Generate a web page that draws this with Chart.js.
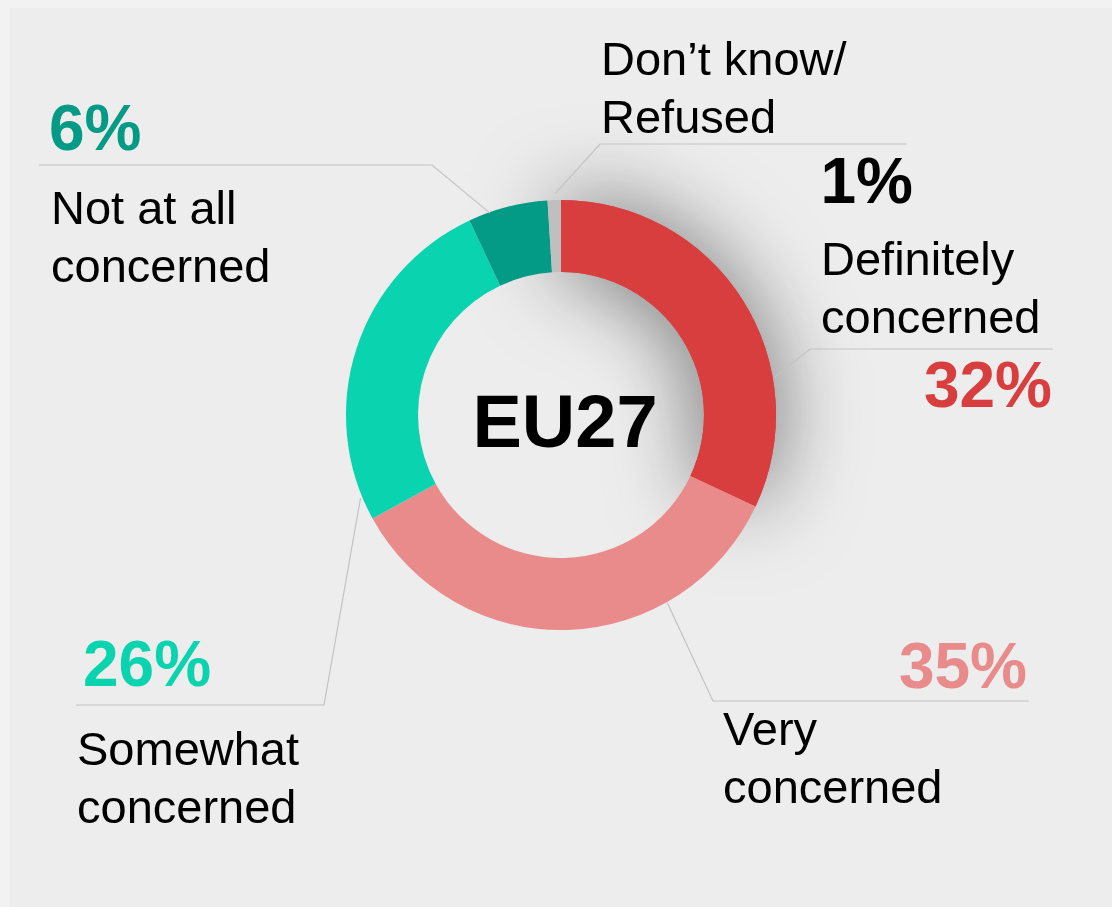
<!DOCTYPE html>
<html>
<head>
<meta charset="utf-8">
<script src="https://cdn.jsdelivr.net/npm/chart.js@4.4.1/dist/chart.umd.min.js"></script>
<style>
  html, body { margin: 0; padding: 0; background: #f2f2f2; }
  canvas { display: block; }
</style>
</head>
<body>
<canvas id="c" width="1112" height="907"></canvas>
<script>
// ---- Data ----
const categories = ["Definitely concerned", "Very concerned", "Somewhat concerned", "Not at all concerned", "Don\u2019t know/ Refused"];
const values = [32, 35, 26, 6, 1];
const valueLabels = ["32%", "35%", "26%", "6%", "1%"];
const labelLines = [["Definitely", "concerned"], ["Very", "concerned"], ["Somewhat", "concerned"], ["Not at all", "concerned"], ["Don\u2019t know/", "Refused"]];
const centerTitle = "EU27";

// ---- Styles ----
const sliceColors = ["#d93e3f", "#e88b8a", "#0ad4b0", "#039a86", "#bfbfbf"];
const valueColors = ["#d93e3f", "#e88b8a", "#0ad4b0", "#039a86", "#000000"];

// ---- Label layout (angle in degrees clockwise from top, radial gap from outer edge) ----
const layout = [
  { angle: 80,    gap: 2, elbow: [810, 349],  lineEnd: 1053, pct: [1052, 407, "right"], text: [821, 275] },
  { angle: 150.5, gap: 1, elbow: [713, 701],  lineEnd: 1029, pct: [1027, 688, "right"], text: [723, 745] },
  { angle: 247.5, gap: 2, elbow: [324, 705],  lineEnd: 76,   pct: [83, 686, "left"],    text: [77, 765] },
  { angle: 340.6, gap: -1, elbow: [432, 165], lineEnd: 39,   pct: [49, 150, "left"],    text: [51, 224] },
  { angle: 358.6, gap: 7, elbow: [600, 144],  lineEnd: 907,  pct: [913, 203, "right"],  text: [601, 75] }
];
const FONT = '"Liberation Sans", Arial, Helvetica, sans-serif';

const bgPlugin = {
  id: 'bg',
  beforeDraw(chart) {
    const ctx = chart.ctx;
    ctx.save();
    ctx.fillStyle = '#f2f2f2';
    ctx.fillRect(0, 0, chart.width, chart.height);
    ctx.fillStyle = '#ededed';
    ctx.fillRect(10, 8, chart.width - 10, chart.height - 8);
    ctx.restore();
  }
};

const shadowPlugin = {
  id: 'shadow',
  beforeDatasetsDraw(chart) {
    const arc = chart.getDatasetMeta(0).data[0];
    const ctx = chart.ctx;
    ctx.save();
    ctx.shadowColor = 'rgba(0,0,0,0.55)';
    ctx.shadowBlur = 85;
    arc.draw(ctx);
    ctx.restore();
  }
};

const labelPlugin = {
  id: 'labels',
  afterDatasetsDraw(chart) {
    const ctx = chart.ctx;
    const arcs = chart.getDatasetMeta(0).data;
    const cx = arcs[0].x, cy = arcs[0].y, R = arcs[0].outerRadius;
    ctx.save();
    // leader lines
    ctx.strokeStyle = '#c3c3c3';
    ctx.lineWidth = 1.2;
    layout.forEach((L) => {
      const a = L.angle * Math.PI / 180;
      const r = R + L.gap;
      const px = cx + r * Math.sin(a), py = cy - r * Math.cos(a);
      ctx.beginPath();
      ctx.moveTo(px, py);
      ctx.lineTo(L.elbow[0], L.elbow[1]);
      ctx.lineTo(L.lineEnd, L.elbow[1]);
      ctx.stroke();
    });
    // percentages
    ctx.textBaseline = 'alphabetic';
    layout.forEach((L, i) => {
      ctx.font = 'bold 64px ' + FONT;
      ctx.fillStyle = valueColors[i];
      ctx.textAlign = L.pct[2];
      ctx.fillText(valueLabels[i], L.pct[0], L.pct[1]);
    });
    // category text
    ctx.font = '47px ' + FONT;
    ctx.fillStyle = '#000';
    ctx.textAlign = 'left';
    layout.forEach((L, i) => {
      labelLines[i].forEach((line, j) => {
        ctx.fillText(line, L.text[0], L.text[1] + j * 57.5);
      });
    });
    // center title
    ctx.font = 'bold 74px ' + FONT;
    ctx.textAlign = 'center';
    ctx.fillText(centerTitle, cx + 4, 447);
    ctx.restore();
  }
};

new Chart(document.getElementById('c'), {
  type: 'doughnut',
  data: {
    labels: categories,
    datasets: [{
      data: values,
      backgroundColor: sliceColors,
      borderWidth: 0,
      hoverBorderWidth: 0,
      hoverOffset: 0,
      offset: 0
    }]
  },
  options: {
    responsive: false,
    animation: false,
    events: [],
    cutout: '66.5%',
    layout: { padding: { left: 346, right: 336, top: 200, bottom: 277 } },
    plugins: {
      legend: { display: false },
      tooltip: { enabled: false }
    }
  },
  plugins: [bgPlugin, shadowPlugin, labelPlugin]
});
</script>
</body>
</html>
